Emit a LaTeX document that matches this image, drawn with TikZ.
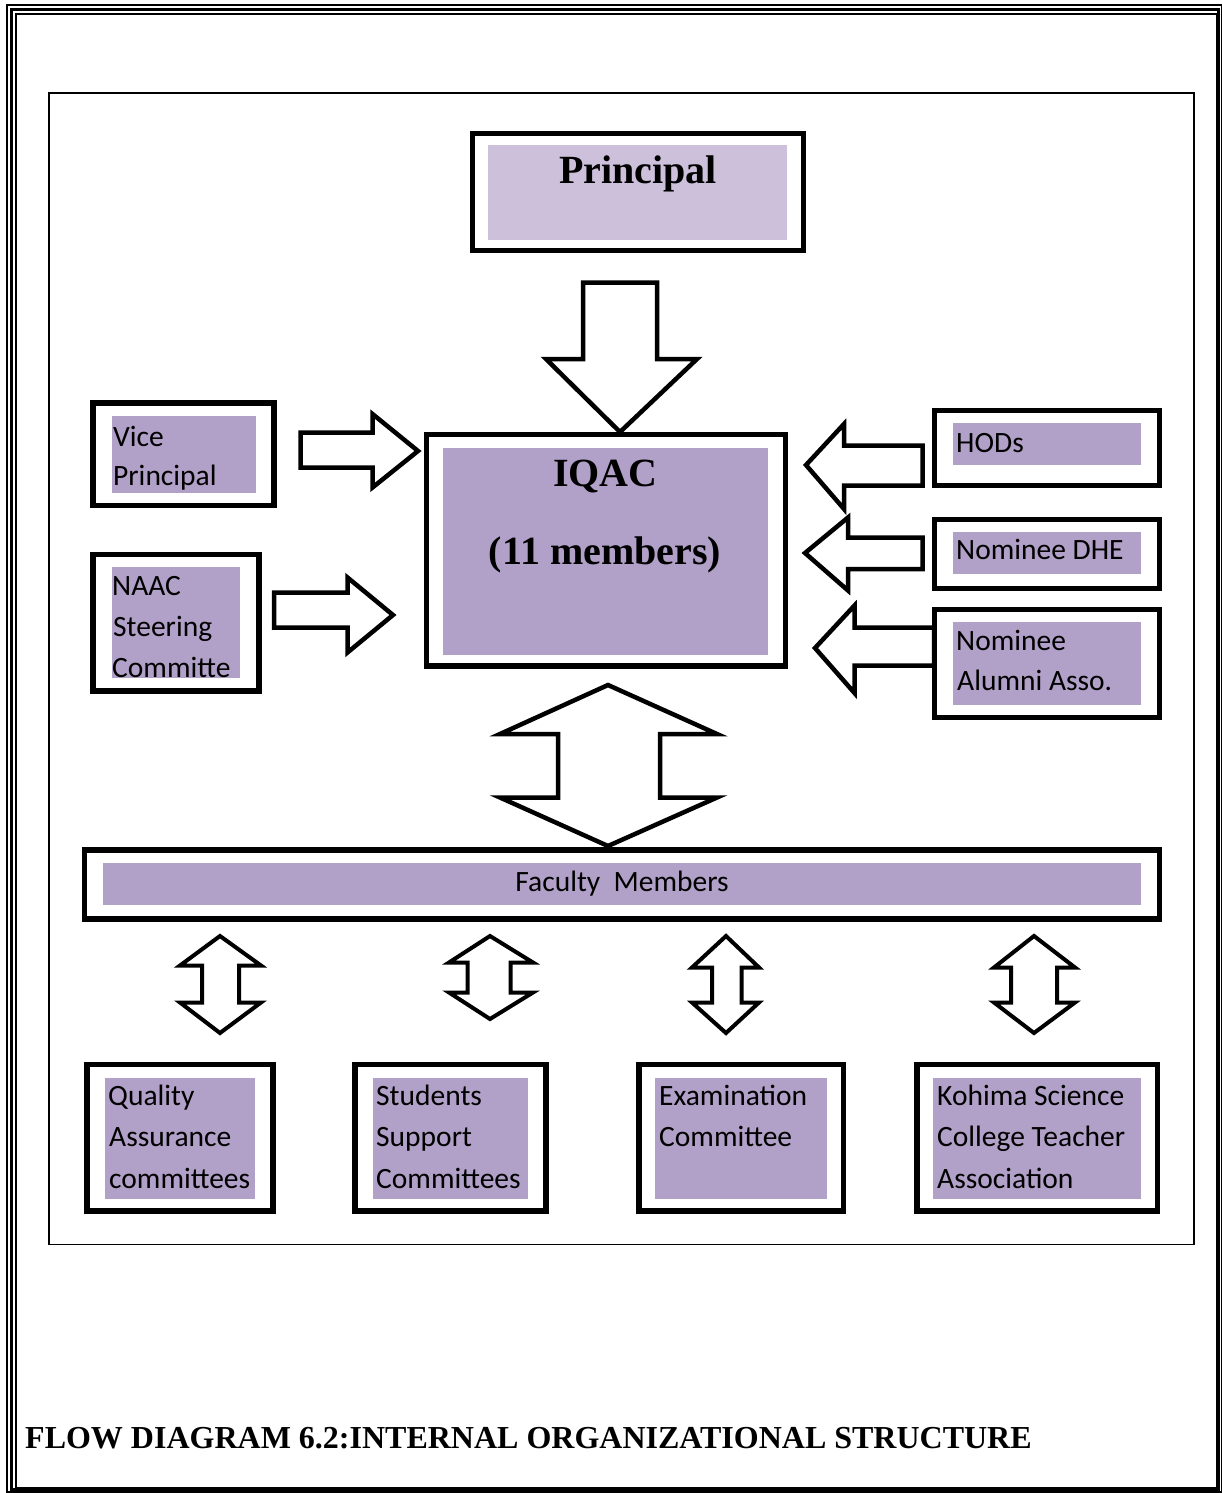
\documentclass[tikz,border=0pt]{standalone}
\usepackage{fontspec}
\setmainfont{Liberation Serif}
\newfontfamily\carlito{Carlito}
\definecolor{boxpurple}{HTML}{B1A0C7}
\definecolor{lightpurple}{HTML}{CCC0DA}
\tikzset{
  outerbox/.style={draw=black, line width=5.5pt, rectangle, inner sep=0pt, outer sep=0pt},
  bigarrow/.style={draw=black, fill=white, line width=4.5pt, line join=miter, miter limit=10},
  smallarrow/.style={draw=black, fill=white, line width=4pt, line join=miter, miter limit=10},
  lbl/.style={anchor=base west, inner sep=0pt, font=\carlito\fontsize{29.5}{35}\selectfont},
  title/.style={anchor=base, inner sep=0pt, font=\bfseries\fontsize{40}{48}\selectfont},
}
\newcommand\orgbox[5]{%
  \node[outerbox, minimum width={#4-#2}, minimum height={#5-#3}] (#1) at ({(#2+#4)/2},{(#3+#5)/2}) {};}
\begin{document}
\begin{tikzpicture}[x=1pt, y=-1pt]
\useasboundingbox (0,0) rectangle (1222,1493);
% page border
\draw[line width=2pt] (7,5) rectangle (1221.7,1492.4);
\draw[line width=2.7pt] (11.3,9.3) rectangle (1218.7,1489.5);
\draw[line width=1.7pt] (15.8,14.2) rectangle (1216.5,1487.6);
% inner frame
\draw[line width=1.8pt] (49.2,93) rectangle (1193.8,1244.5);

% ---- block arrows ----
\draw[bigarrow] (583,282.5) -- (657,282.5) -- (657,359) -- (697,359) -- (620,432) -- (546,359) -- (583,359) -- cycle;
\draw[bigarrow] (300.5,432.5) -- (372.5,432.5) -- (372.5,414) -- (418,451) -- (372.5,487.5) -- (372.5,467.5) -- (300.5,467.5) -- cycle;
\draw[bigarrow] (274,592.5) -- (347.5,592.5) -- (347.5,577.5) -- (393,615) -- (347.5,652.5) -- (347.5,627.5) -- (274,627.5) -- cycle;
\draw[bigarrow] (922.5,445.5) -- (844,445.5) -- (844,424) -- (806,465) -- (844,509) -- (844,485.5) -- (922.5,485.5) -- cycle;
\draw[bigarrow] (922.5,537.5) -- (848,537.5) -- (848,517.5) -- (805,553) -- (848,590.5) -- (848,569) -- (922.5,569) -- cycle;
\draw[bigarrow] (934,627.5) -- (854.5,627.5) -- (854.5,605.5) -- (815,648) -- (854.5,693) -- (854.5,665.5) -- (934,665.5) -- cycle;
\draw[bigarrow] (608,685) -- (717,734) -- (660,734) -- (660,797.5) -- (717,797.5) -- (608,846) -- (500,797.5) -- (558,797.5) -- (558,734) -- (500,734) -- cycle;
\draw[smallarrow] (220,936) -- (261,965.5) -- (239,965.5) -- (239,1002.5) -- (261,1002.5) -- (220,1033) -- (180,1002.5) -- (202,1002.5) -- (202,965.5) -- (180,965.5) -- cycle;
\draw[smallarrow] (490,936) -- (533,962.5) -- (510.5,962.5) -- (510.5,992.5) -- (533,992.5) -- (490,1019) -- (449,992.5) -- (467.5,992.5) -- (467.5,962.5) -- (449,962.5) -- cycle;
\draw[smallarrow] (726,936) -- (759,967.5) -- (741.5,967.5) -- (741.5,1002.5) -- (759,1002.5) -- (726,1033) -- (692,1002.5) -- (712,1002.5) -- (712,967.5) -- (692,967.5) -- cycle;
\draw[smallarrow] (1034,936) -- (1075,967.5) -- (1057,967.5) -- (1057,1002.5) -- (1075,1002.5) -- (1034,1033) -- (994,1002.5) -- (1011,1002.5) -- (1011,967.5) -- (994,967.5) -- cycle;

% ---- fills ----
\fill[lightpurple] (488,145) rectangle (787,240);
\fill[boxpurple] (443,448) rectangle (768,655);
\fill[boxpurple] (112,416) rectangle (256,493);
\fill[boxpurple] (112,567) rectangle (240,678);
\fill[boxpurple] (953,423) rectangle (1141,465);
\fill[boxpurple] (953,532) rectangle (1141,574);
\fill[boxpurple] (953,622) rectangle (1141,705);
\fill[boxpurple] (103,863) rectangle (1141,905);
\fill[boxpurple] (105,1078) rectangle (255,1199);
\fill[boxpurple] (373,1078) rectangle (528,1199);
\fill[boxpurple] (655,1078) rectangle (827,1199);
\fill[boxpurple] (933,1078) rectangle (1141,1199);

% ---- boxes ----
\orgbox{principal}{472.5}{133.5}{803.5}{250.5}
\orgbox{iqac}{426.5}{434.5}{785.5}{666}
\orgbox{vp}{93}{403}{274}{505.5}
\orgbox{naac}{93}{554.5}{259}{691}
\orgbox{hods}{934.5}{410.5}{1159.5}{485.5}
\orgbox{dhe}{934.5}{519.5}{1159.5}{588.5}
\orgbox{alumni}{934.5}{609.5}{1159.5}{717.5}
\orgbox{faculty}{84.5}{850}{1159.5}{919}
\orgbox{quality}{87}{1064.5}{273}{1211}
\orgbox{students}{355}{1064.5}{546}{1211}
\orgbox{exam}{639}{1064.5}{843.5}{1211}
\orgbox{kohima}{917}{1064.5}{1157.5}{1211}

% ---- texts ----
\node[title] (tprincipal) at (638,183) {Principal};
\node[title] (tiqac) at (605.5,486) {IQAC};
\node[title] (tiqacm) at (605,564) {(11 members)};

\node[lbl] (tvp1) at (113,446) {Vice};
\node[lbl] (tvp2) at (113,485.5) {Principal};
\node[lbl] (tn1) at (112,595) {NAAC};
\node[lbl] (tn2) at (113,636.5) {Steering};
\node[lbl] (tn3) at (112,677) {Committe};
\node[lbl] (th) at (956,452) {HODs};
\node[lbl] (td) at (956,559) {Nominee DHE};
\node[lbl] (ta1) at (956,650) {Nominee};
\node[lbl] (ta2) at (957,690.5) {Alumni Asso.};
\node[lbl, anchor=base] (tf) at (622,891) {Faculty\ \ Members};
\node[lbl] (tq1) at (108,1105) {Quality};
\node[lbl] (tq2) at (109,1146.5) {Assurance};
\node[lbl] (tq3) at (109,1188) {committees};
\node[lbl] (ts1) at (376,1105) {Students};
\node[lbl] (ts2) at (376,1146.5) {Support};
\node[lbl] (ts3) at (376,1188) {Committees};
\node[lbl] (te1) at (659,1105) {Examination};
\node[lbl] (te2) at (659,1146.5) {Committee};
\node[lbl] (tk1) at (937,1105) {Kohima Science};
\node[lbl] (tk2) at (937,1146.5) {College Teacher};
\node[lbl] (tk3) at (937,1188) {Association};

\node[anchor=base west, inner sep=0pt, font=\bfseries\fontsize{32}{38}\selectfont] (caption) at (25,1448) {FLOW DIAGRAM 6.2:INTERNAL ORGANIZATIONAL STRUCTURE};
\end{tikzpicture}
\end{document}
